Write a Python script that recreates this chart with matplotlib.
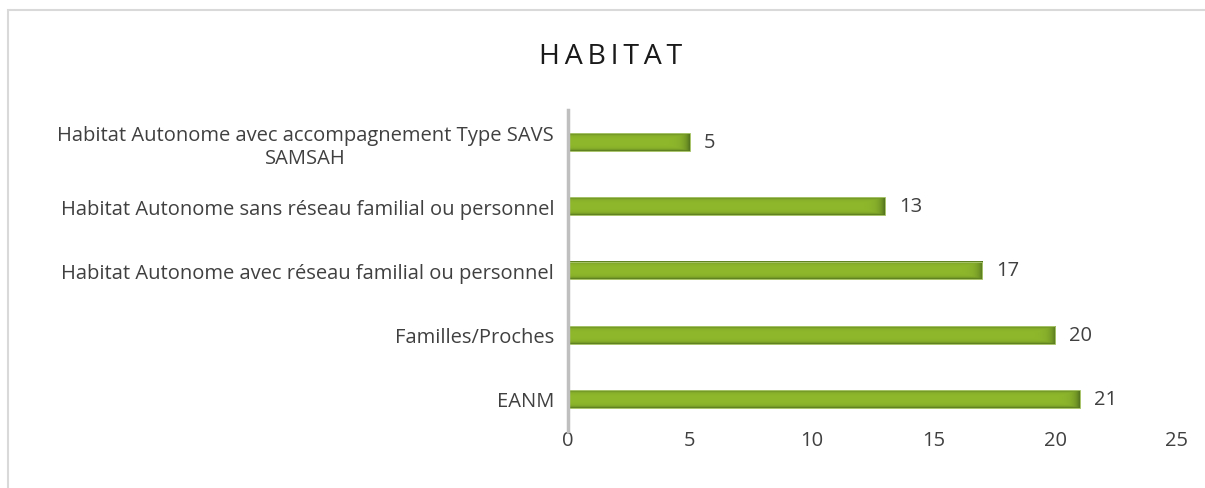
import matplotlib
matplotlib.use("Agg")
import matplotlib.pyplot as plt
import numpy as np
from matplotlib.colors import to_rgb
from matplotlib.patches import Rectangle

categories = ["EANM", "Familles/Proches",
              "Habitat Autonome avec réseau familial ou personnel",
              "Habitat Autonome sans réseau familial ou personnel",
              "Habitat Autonome avec accompagnement Type SAVS\nSAMSAH"]
values = [21, 20, 17, 13, 5]
xticks = [0, 5, 10, 15, 20, 25]
title = "HABITAT"

plt.rcParams['font.family'] = ['Open Sans', 'DejaVu Sans']
txt = "#404040"

fig = plt.figure(figsize=(12.05, 4.89), dpi=100)
fig.patches.append(Rectangle((8/1205, -0.1), 1.2, (489-11)/489 + 0.1, transform=fig.transFigure,
                             fill=False, edgecolor="#D9D9D9", linewidth=1.5))
ax_w_px = 1177 - 568
ax = fig.add_axes([568/1205, 1-432/489, ax_w_px/1205, (432-111)/489])

y = np.arange(len(categories))
h = 0.28
base = np.array(to_rgb("#8FB82C"))
dark = np.array(to_rgb("#56761F"))
bars = ax.barh(y, values, height=h, color="#8DB52C", edgecolor="none", zorder=2)
px_per_unit = ax_w_px / 25
for b in bars:
    x0, y0 = b.get_x(), b.get_y()
    w, hh = b.get_width(), b.get_height()
    wpx = w * px_per_unit
    ny, nx = 40, max(int(wpx), 2)
    v = np.linspace(0, 1, ny)[:, None]
    u = np.linspace(0, 1, nx)[None, :]
    dv = np.minimum(v, 1 - v)
    dr = (1 - u) * wpx
    dk = np.maximum(np.exp(-dv / 0.08), np.exp(-dr / 5.0))
    dk = np.clip(dk, 0, 1)
    img = base[None, None, :] * (1 - dk[..., None]) + dark[None, None, :] * dk[..., None]
    ax.imshow(img, extent=[x0, x0 + w, y0, y0 + hh], aspect="auto", zorder=3,
              interpolation="bilinear", origin="lower")
    ax.add_patch(Rectangle((x0, y0), w, hh, fill=False, edgecolor="#A8C46A", linewidth=0.7, zorder=5))
    ax.text(x0 + w + 0.58, y0 + hh / 2, str(int(w)), va="center", ha="left", fontsize=14.5,
            color=txt, fontweight="normal")

ax.set_xlim(0, 25)
ax.set_ylim(-0.5, len(categories) - 0.5)
ax.set_xticks(xticks)
ax.set_xticklabels([str(t) for t in xticks])
ax.set_yticks(y)
ax.set_yticklabels(categories, multialignment="center")
ax.tick_params(axis="both", length=0, labelsize=14.5, colors=txt)
ax.tick_params(axis="y", pad=10)
ax.tick_params(axis="x", pad=-1)
for s in ["top", "right", "bottom"]:
    ax.spines[s].set_visible(False)
ax.spines["left"].set_color("#BFBFBF")
ax.spines["left"].set_linewidth(2.5)
ax.spines["left"].set_zorder(6)

fig.text(611/1205, 1-57/489, "\u2009".join(title), ha="center", va="center", fontsize=20.5,
         color="#1A1A1A", fontweight="normal")

fig.savefig("out.png", dpi=100, facecolor="white")
